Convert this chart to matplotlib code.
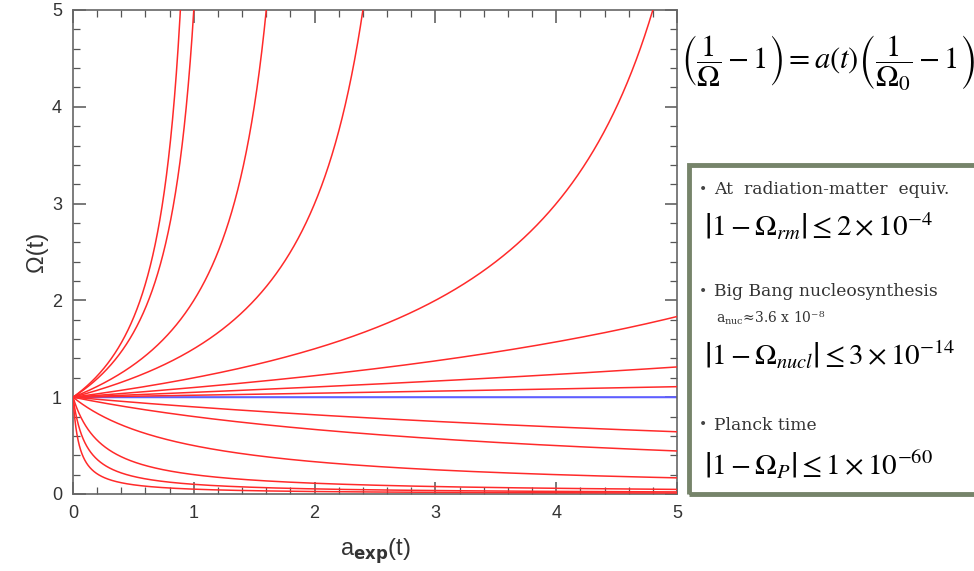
import numpy as np
import matplotlib
matplotlib.use("Agg")
import matplotlib.pyplot as plt
from matplotlib.patches import Rectangle
from matplotlib.ticker import MultipleLocator

# density parameter today (at a=1) for each red curve
OMEGA0_RED = [10.0, 5.0, 2.0, 1.5, 1.2, 1.1, 1.05, 1.02, 0.9, 0.8, 0.5, 0.2, 0.1, 0.05]
OMEGA0_FLAT = 1.0
A_MAX = 5.0

X_TICKS = [0, 1, 2, 3, 4, 5]
Y_TICKS = [0, 1, 2, 3, 4, 5]

EQ_TOP = r"$\left(\dfrac{1}{\Omega}-1\right)=a(t)\left(\dfrac{1}{\Omega_0}-1\right)$"
BULLETS = [
    ("At  radiation-matter  equiv.", None, r"$\left|1-\Omega_{rm}\right|\leq 2\times10^{-4}$"),
    ("Big Bang nucleosynthesis", "a$_{\\rm nuc}$≈3.6 x 10⁻⁸", r"$\left|1-\Omega_{nucl}\right|\leq 3\times10^{-14}$"),
    ("Planck time", None, r"$\left|1-\Omega_{P}\right|\leq 1\times10^{-60}$"),
]


def omega_of_a(a, omega0):
    # relation shown on the chart: (1/Omega - 1) = a (1/Omega0 - 1)
    denom = 1.0 + a * (1.0 / omega0 - 1.0)
    out = np.where(denom > 0, 1.0 / np.where(denom > 0, denom, 1.0), np.nan)
    out[out > 6] = np.nan
    return out


a = np.unique(np.concatenate([np.geomspace(1e-4, 0.5, 600), np.linspace(0, A_MAX, 3000)]))

fig = plt.figure(figsize=(9.74, 5.71), dpi=100)
ax = fig.add_axes([73 / 974, 1 - 494 / 571, (677 - 73) / 974, (494 - 10) / 571])

ax.plot(a, np.full_like(a, OMEGA0_FLAT), color="#5f5fff", lw=1.5, zorder=2)
for om0 in OMEGA0_RED:
    ax.plot(a, omega_of_a(a, om0), color="#ff2a2a", lw=1.1, zorder=3)

ax.set_xlim(0, A_MAX)
ax.set_ylim(0, 5)
ax.set_xticks(X_TICKS)
ax.set_yticks(Y_TICKS)
ax.xaxis.set_minor_locator(MultipleLocator(0.2))
ax.yaxis.set_minor_locator(MultipleLocator(0.2))
ax.tick_params(which="both", direction="in", top=True, right=True, colors="#555555",
               labelcolor="#333333", labelsize=13, pad=8)
ax.tick_params(which="major", length=9, width=1.1)
ax.tick_params(which="minor", length=5, width=0.9)
for s in ax.spines.values():
    s.set_color("#666666")
    s.set_linewidth(1.2)
for lbl in ax.get_xticklabels() + ax.get_yticklabels():
    lbl.set_family("Liberation Sans")

ax.set_xlabel(r"a$_{\mathbf{exp}}$(t)", fontsize=17, color="#333333", family="Liberation Sans", labelpad=10)
ax.set_ylabel("Ω(t)", fontsize=17, color="#333333", family="Liberation Sans", labelpad=3)

# equation in the top right
fig.text(828 / 974, 1 - 63 / 571, EQ_TOP, fontsize=22, math_fontfamily="stix",
         ha="center", va="center", color="black")

# framed box with the bounds
box = Rectangle((689 / 974, 1 - 494 / 571), 0.5, (494 - 165) / 571, transform=fig.transFigure,
                fill=False, edgecolor="#76846a", linewidth=3.5, clip_on=False)
fig.add_artist(box)

bullet_y = [190, 292, 425]
sub_y = [None, 318, None]
eq_y = [226, 355, 465]
for (head, sub, eq), by, sy, ey in zip(BULLETS, bullet_y, sub_y, eq_y):
    fig.text(699 / 974, 1 - by / 571, "•", fontsize=10, family="DejaVu Serif", color="#444444",
             ha="left", va="center")
    fig.text(714 / 974, 1 - by / 571, head, fontsize=12.3, family="DejaVu Serif", color="#333333",
             ha="left", va="center")
    if sub is not None:
        fig.text(716 / 974, 1 - sy / 571, sub, fontsize=10, family="DejaVu Serif", color="#333333",
                 ha="left", va="center", math_fontfamily="dejavuserif")
    fig.text(704 / 974, 1 - ey / 571, eq, fontsize=21, math_fontfamily="stix", color="black",
             ha="left", va="center")

fig.savefig("out.png", dpi=100)
